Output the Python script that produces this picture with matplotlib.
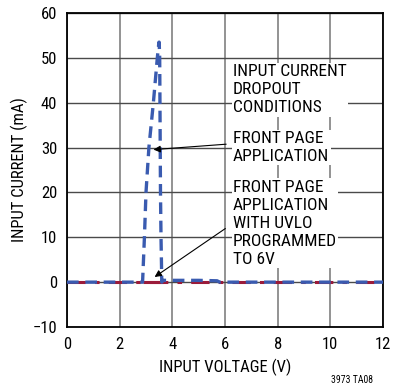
import matplotlib
matplotlib.use("Agg")
import matplotlib.pyplot as plt

plt.rcParams['font.family'] = ['Roboto Condensed', 'Liberation Sans', 'DejaVu Sans']

# Data
dropout_v = [0.0, 2.87, 2.94, 3.00, 3.11, 3.28, 3.43, 3.49, 3.50, 3.52, 3.53, 3.54, 3.55, 3.57, 3.60,
             3.65, 4.0, 5.0, 5.7, 5.8, 12.0]
dropout_i = [0.0, 0.0, 10.0, 20.0, 30.0, 40.0, 50.0, 53.5, 53.5, 50.0, 40.0, 30.0, 20.0, 10.0, 0.0,
             0.4, 0.4, 0.4, 0.3, 0.0, 0.0]
uvlo_v = [0.0, 12.0]
uvlo_i = [0.0, 0.0]
uvlo_seg_v = [2.9, 3.65]
uvlo_seg_i = [0.0, 0.0]

xticks = [0, 2, 4, 6, 8, 10, 12]
yticks = [-10, 0, 10, 20, 30, 40, 50, 60]
ytick_labels = ["\u221210", "0", "10", "20", "30", "40", "50", "60"]

fig = plt.figure(figsize=(3.95, 3.87), dpi=100)
ax = fig.add_axes([67/395, 60/387, 316/395, 314/387])

ax.set_xlim(0, 12)
ax.set_ylim(-10, 60)
ax.set_xticks(xticks)
ax.set_yticks(yticks)
ax.set_yticklabels(ytick_labels)
ax.xaxis.grid(True, color="#808080", linewidth=1.2)
ax.yaxis.grid(True, color="#4a4a4a", linewidth=1.0)
ax.set_axisbelow(True)
for s in ax.spines.values():
    s.set_color("black")
    s.set_linewidth(1.3)
ax.tick_params(length=0, labelsize=12, pad=7)

ax.plot(uvlo_v, uvlo_i, color="#9b1b3a", linewidth=2.2, linestyle=(0, (6, 3, 1.5, 3)), zorder=3)
ax.plot(uvlo_seg_v, uvlo_seg_i, color="#9b1b3a", linewidth=2.2, solid_capstyle="butt", zorder=3)
ax.plot(dropout_v, dropout_i, color="#3a5bb0", linewidth=2.4, linestyle=(0, (3.5, 2)), zorder=4)

bb = dict(facecolor="white", edgecolor="none", pad=1)
fs = 12.5
ls = 1.25
ax.text(6.3, 48.6, "INPUT CURRENT\nDROPOUT\nCONDITIONS", fontsize=fs, va="top", ha="left",
        linespacing=ls, bbox=bb, zorder=5)
ax.text(6.3, 33.7, "FRONT PAGE\nAPPLICATION", fontsize=fs, va="top", ha="left",
        linespacing=ls, bbox=bb, zorder=5)
ax.text(6.3, 22.8, "FRONT PAGE\nAPPLICATION\nWITH UVLO\nPROGRAMMED\nTO 6V", fontsize=fs, va="top",
        ha="left", linespacing=ls, bbox=bb, zorder=5)

ax.annotate("", xy=(3.18, 29.5), xytext=(6.15, 30.8),
            arrowprops=dict(arrowstyle="-|>", color="black", lw=0.8, mutation_scale=10), zorder=6)
ax.annotate("", xy=(3.24, 0.8), xytext=(6.1, 12.3),
            arrowprops=dict(arrowstyle="-|>", color="black", lw=0.8, mutation_scale=10), zorder=6)

ax.set_xlabel("INPUT VOLTAGE (V)", fontsize=12, labelpad=5)
ax.set_ylabel("INPUT CURRENT (mA)", fontsize=12, labelpad=3)
fig.text(352/395, 1 - 380/387, "3973 TA08", fontsize=7, ha="center", va="center")

fig.savefig("out.png", dpi=100)
